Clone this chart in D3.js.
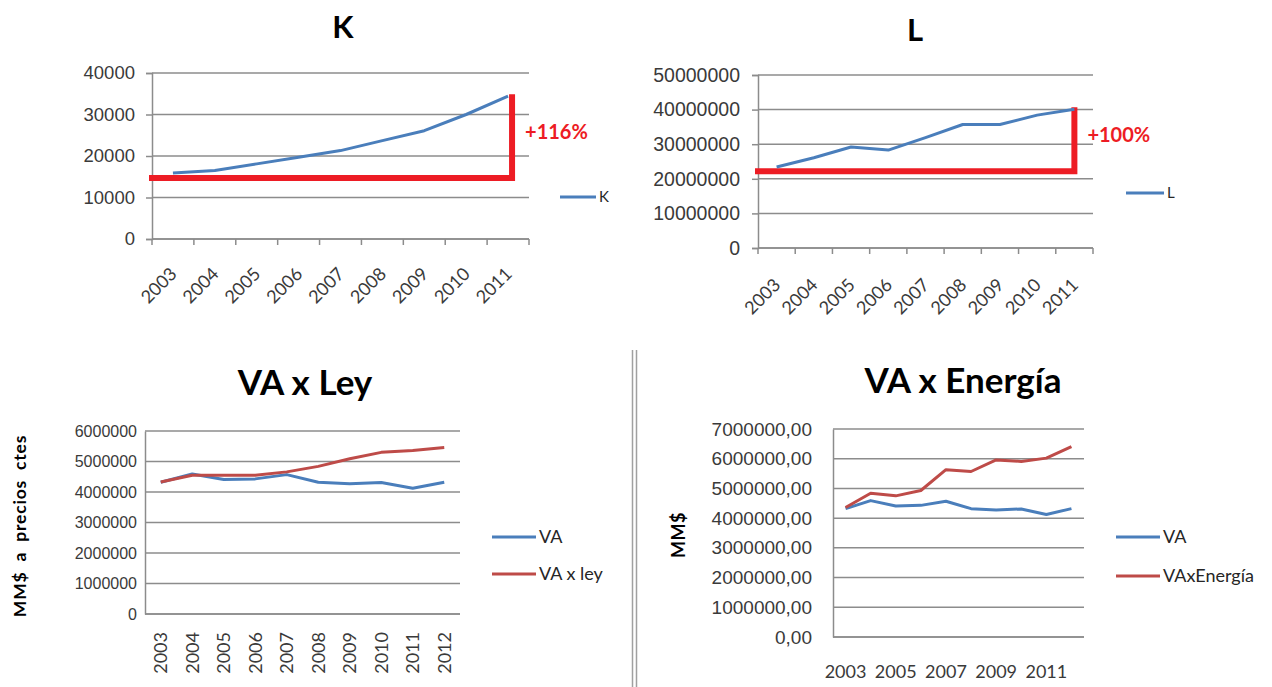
<!DOCTYPE html>
<html>
<head>
<meta charset="utf-8">
<script src="https://cdnjs.cloudflare.com/ajax/libs/d3/7.8.5/d3.min.js"></script>
<style>
  body { margin: 0; background: #fff; }
  svg { font-family: Lato, "Open Sans", sans-serif; }
</style>
</head>
<body>
<svg width="1272" height="687"></svg>
<script>
var svg = d3.select("svg");

// data
var yearsTop = ["2003", "2004", "2005", "2006", "2007", "2008", "2009", "2010", "2011"];
var yearsBottom = ["2003", "2004", "2005", "2006", "2007", "2008", "2009", "2010", "2011", "2012"];
var kValues = [15900, 16500, 18100, 19700, 21300, 23700, 26100, 30000, 34400];
var lValues = [23400000, 26100000, 29200000, 28300000, 31900000, 35700000, 35700000, 38400000, 40100000];
var vaValues = [4320000, 4590000, 4410000, 4430000, 4570000, 4320000, 4270000, 4310000, 4120000, 4320000];
var vaLeyValues = [4330000, 4550000, 4550000, 4550000, 4660000, 4840000, 5090000, 5300000, 5360000, 5460000];
var vaEnergiaValues = [4360000, 4840000, 4750000, 4930000, 5630000, 5570000, 5960000, 5910000, 6020000, 6410000];
var kBase = 14700, kLabel = "+116%";
var lBase = 22200000, lLabel = "+100%";

var blue = "#4a7ebb", red = "#be4b48", mark = "#ed1c24", grid = "#8c8c8c", ink = "#3a3a3a";

const drawChart = (c) => {
  const g = svg.append("g");
  const x = d3.scaleBand().domain(c.cats).range([c.x0, c.x1]);
  const y = d3.scaleLinear().domain([0, c.max]).range([c.y1, c.y0]);
  const cx = (d) => x(d) + x.bandwidth() / 2;

  // gridlines
  g.append("g").selectAll("line")
    .data(y.ticks(c.max / c.step))
    .enter().append("line")
    .attr("x1", c.x0).attr("x2", c.x1)
    .attr("y1", (d) => y(d)).attr("y2", (d) => y(d))
    .attr("stroke", grid).attr("stroke-width", 1.5);

  // y axis
  const ya = g.append("g")
    .attr("transform", `translate(${c.x0},0)`)
    .call(d3.axisLeft(y).ticks(c.max / c.step).tickFormat(c.fmt)
      .tickSize(c.ticks ? 6 : 0).tickPadding(c.pad));
  ya.select(".domain").attr("stroke", grid).attr("stroke-width", 1.5);
  ya.selectAll(".tick line").attr("stroke", grid).attr("stroke-width", 1.5);
  ya.selectAll("text").attr("fill", ink).style("font-size", c.yFont + "px");

  // x axis line + ticks on band edges
  g.append("line")
    .attr("x1", c.x0).attr("x2", c.x1).attr("y1", c.y1).attr("y2", c.y1)
    .attr("stroke", grid).attr("stroke-width", 1.5);
  if (c.ticks) {
    g.append("g").selectAll("line")
      .data(d3.range(c.cats.length + 1))
      .enter().append("line")
      .attr("x1", (i) => c.x0 + i * x.bandwidth())
      .attr("x2", (i) => c.x0 + i * x.bandwidth())
      .attr("y1", c.y1).attr("y2", c.y1 + 6)
      .attr("stroke", grid).attr("stroke-width", 1.5);
  }

  // x labels
  const lab = g.append("g").selectAll("text")
    .data(c.cats.filter((d, i) => i % c.every === 0))
    .enter().append("text")
    .attr("fill", ink)
    .style("font-size", c.xFont + "px")
    .text((d) => d);
  if (c.rot === -45) {
    lab.attr("text-anchor", "end")
      .attr("transform", (d) => `translate(${cx(d) + 5},${c.y1 + c.labOff}) rotate(-45)`);
  } else if (c.rot === -90) {
    lab.attr("text-anchor", "end").attr("dy", "0.35em")
      .attr("transform", (d) => `translate(${cx(d)},${c.y1 + c.labOff}) rotate(-90)`);
  } else {
    lab.attr("text-anchor", "middle")
      .attr("x", (d) => cx(d))
      .attr("y", c.y1 + c.labOff);
  }

  // annotation (drawn under the series lines)
  if (c.base) {
    const xe = cx(c.cats[c.cats.length - 1]) + c.endShift;
    const top = y(c.series[0].values[c.series[0].values.length - 1]);
    g.append("path")
      .attr("d", `M${c.x0 - 3},${y(c.base)}H${xe}V${top - 2}`)
      .attr("fill", "none").attr("stroke", mark).attr("stroke-width", 6);
    g.append("text")
      .attr("x", xe + 13).attr("y", (top + y(c.base)) / 2 + 2)
      .attr("fill", mark).attr("font-weight", "bold")
      .style("font-size", "20px")
      .text(c.label);
  }

  // series
  const line = d3.line()
    .x((d, i) => cx(c.cats[i]))
    .y((d) => y(d));
  c.series.forEach((s) => {
    g.append("path")
      .datum(s.values)
      .attr("d", line)
      .attr("fill", "none").attr("stroke", s.color).attr("stroke-width", 3)
      .attr("stroke-linejoin", "round");
  });

  // legend
  c.series.forEach((s, i) => {
    const ly = c.legY + i * c.legGap;
    g.append("line")
      .attr("x1", c.legX).attr("x2", c.legX + c.legW)
      .attr("y1", ly).attr("y2", ly)
      .attr("stroke", s.color).attr("stroke-width", 3);
    g.append("text")
      .attr("x", c.legX + c.legW + 3).attr("y", ly).attr("dy", "0.36em")
      .attr("fill", "#262626").style("font-size", c.legFont + "px")
      .text(s.name);
  });

  // title
  g.append("text")
    .attr("x", c.tx).attr("y", c.ty)
    .attr("text-anchor", "middle").attr("font-weight", "bold")
    .style("font-size", c.tFont + "px")
    .text(c.title);

  if (c.yTitle) {
    g.append("text")
      .attr("transform", `translate(${c.ytx},${c.yty}) rotate(-90)`)
      .attr("text-anchor", "middle").attr("font-weight", "bold")
      .style("font-size", c.ytFont + "px")
      .style("word-spacing", c.ytWord + "px")
      .style("letter-spacing", c.ytLetter + "px")
      .text(c.yTitle);
  }
};

drawChart({
  title: "K", tx: 343, ty: 38, tFont: 31,
  cats: yearsTop, x0: 152, x1: 529, y0: 73, y1: 239, max: 40000, step: 10000,
  fmt: d3.format("d"), yFont: 18.5, pad: 11, xFont: 18, ticks: true, rot: -45, every: 1, labOff: 36,
  series: [{ name: "K", values: kValues, color: blue }],
  base: kBase, label: kLabel, endShift: 4,
  legX: 560, legY: 197, legGap: 0, legW: 36, legFont: 15
});

drawChart({
  title: "L", tx: 915, ty: 41, tFont: 31,
  cats: yearsTop, x0: 758, x1: 1093, y0: 75, y1: 248, max: 50000000, step: 10000000,
  fmt: d3.format("d"), yFont: 19.5, pad: 12, xFont: 18, ticks: true, rot: -45, every: 1, labOff: 38,
  series: [{ name: "L", values: lValues, color: blue }],
  base: lBase, label: lLabel, endShift: 0,
  legX: 1126, legY: 193, legGap: 0, legW: 38, legFont: 15
});

drawChart({
  title: "VA x Ley", tx: 305, ty: 395, tFont: 35,
  cats: yearsBottom, x0: 145, x1: 460, y0: 431, y1: 614, max: 6000000, step: 1000000,
  fmt: d3.format("d"), yFont: 16, pad: 8, xFont: 18, ticks: false, rot: -90, every: 1, labOff: 18,
  series: [{ name: "VA", values: vaValues, color: blue }, { name: "VA x ley", values: vaLeyValues, color: red }],
  legX: 492, legY: 537, legGap: 37, legW: 44, legFont: 18,
  yTitle: "MM$ a precios ctes", ytFont: 17.5, ytWord: 5, ytLetter: 0.8, ytx: 26, yty: 526
});

drawChart({
  title: "VA x Energía", tx: 963, ty: 393, tFont: 35,
  cats: yearsBottom, x0: 833, x1: 1084, y0: 429, y1: 637, max: 7000000, step: 1000000,
  fmt: (d) => d + ",00", yFont: 19, pad: 21, xFont: 18, ticks: false, rot: 0, every: 2, labOff: 41,
  series: [{ name: "VA", values: vaValues, color: blue }, { name: "VAxEnergía", values: vaEnergiaValues, color: red }],
  legX: 1116, legY: 537, legGap: 39, legW: 44, legFont: 18,
  yTitle: "MM$", ytFont: 18, ytWord: 0, ytLetter: 0.5, ytx: 685, yty: 535
});

// double separator between the bottom charts
[632.5, 636.5].forEach((d) => {
  svg.append("line")
    .attr("x1", d).attr("x2", d).attr("y1", 350).attr("y2", 687)
    .attr("stroke", "#a0a0a0").attr("stroke-width", 1.5);
});
</script>
</body>
</html>
